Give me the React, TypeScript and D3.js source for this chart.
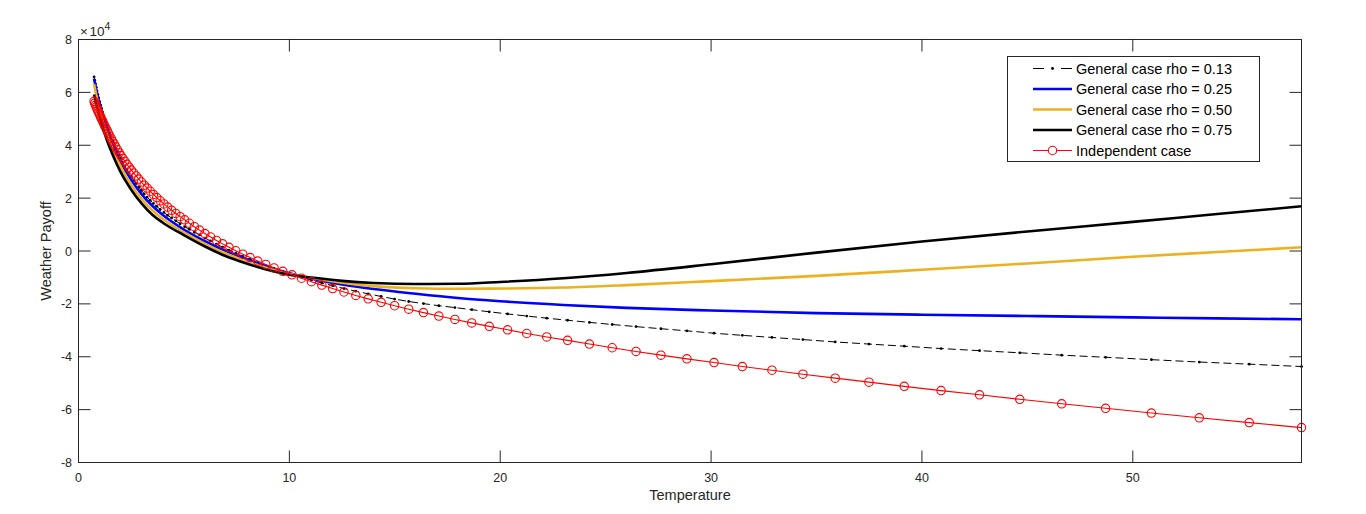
import React from 'react';
import * as d3 from 'd3';

// Temperature grid shared by the independent case and rho = 0.13 (one marker per point)
const temperature = [
  0.738, 0.771, 0.806, 0.841, 0.879, 0.918, 0.959, 1.002, 1.047, 1.093,
  1.142, 1.193, 1.246, 1.302, 1.36, 1.421, 1.484, 1.55, 1.619, 1.692,
  1.767, 1.846, 1.928, 2.014, 2.104, 2.198, 2.296, 2.398, 2.505, 2.617,
  2.733, 2.855, 2.983, 3.116, 3.255, 3.4, 3.552, 3.71, 3.875, 4.048,
  4.228, 4.417, 4.614, 4.82, 5.035, 5.259, 5.494, 5.739, 5.995, 6.263,
  6.542, 6.834, 7.139, 7.457, 7.79, 8.138, 8.501, 8.88, 9.276, 9.69,
  10.122, 10.574, 11.046, 11.538, 12.053, 12.591, 13.152, 13.739, 14.352, 14.992,
  15.661, 16.359, 17.089, 17.851, 18.648, 19.48, 20.349, 21.257, 22.205, 23.195,
  24.23, 25.311, 26.44, 27.62, 28.852, 30.139, 31.483, 32.887, 34.354, 35.887,
  37.488, 39.16, 40.907, 42.732, 44.638, 46.629, 48.709, 50.882, 53.152, 55.523, 58.0,
];

// Weather payoff, in units of 10^4
const independentCase = [
  5.66, 5.59, 5.52, 5.45, 5.38, 5.3, 5.23, 5.15, 5.07, 4.99,
  4.91, 4.82, 4.73, 4.64, 4.55, 4.45, 4.35, 4.25, 4.15, 4.05,
  3.94, 3.83, 3.72, 3.61, 3.5, 3.39, 3.28, 3.17, 3.06, 2.95,
  2.84, 2.72, 2.61, 2.49, 2.38, 2.26, 2.14, 2.02, 1.9, 1.78,
  1.66, 1.54, 1.42, 1.3, 1.18, 1.05, 0.92, 0.79, 0.66, 0.53,
  0.4, 0.27, 0.14, 0.01, -0.12, -0.25, -0.38, -0.51, -0.64, -0.77,
  -0.9, -1.03, -1.16, -1.29, -1.42, -1.55, -1.68, -1.81, -1.94, -2.07,
  -2.2, -2.33, -2.46, -2.59, -2.72, -2.85, -2.98, -3.12, -3.25, -3.38,
  -3.52, -3.66, -3.8, -3.94, -4.08, -4.22, -4.37, -4.51, -4.66, -4.81,
  -4.96, -5.12, -5.28, -5.44, -5.61, -5.78, -5.95, -6.13, -6.31, -6.49, -6.68,
];

const generalRho013 = [
  6.59, 6.45, 6.32, 6.19, 6.05, 5.92, 5.79, 5.65, 5.52, 5.39,
  5.25, 5.12, 4.99, 4.86, 4.72, 4.59, 4.45, 4.32, 4.18, 4.04,
  3.9, 3.76, 3.63, 3.49, 3.35, 3.22, 3.08, 2.95, 2.82, 2.68,
  2.55, 2.42, 2.29, 2.16, 2.04, 1.92, 1.8, 1.69, 1.57, 1.46,
  1.35, 1.25, 1.14, 1.03, 0.92, 0.82, 0.71, 0.61, 0.49, 0.38,
  0.26, 0.15, 0.03, -0.08, -0.2, -0.31, -0.43, -0.55, -0.66, -0.77,
  -0.88, -0.99, -1.1, -1.21, -1.31, -1.42, -1.52, -1.62, -1.72, -1.82,
  -1.91, -1.99, -2.07, -2.14, -2.22, -2.3, -2.38, -2.46, -2.54, -2.62,
  -2.7, -2.78, -2.86, -2.94, -3.02, -3.11, -3.19, -3.27, -3.35, -3.44,
  -3.52, -3.6, -3.69, -3.77, -3.85, -3.94, -4.02, -4.11, -4.2, -4.28, -4.37,
];

// Sampled temperatures for the smooth solid curves
const curveTemperature = [
  0.738, 0.9, 1.1, 1.35, 1.65, 2.0, 2.5, 3.0, 3.5, 4.0, 5.0, 6.0, 7.0, 8.0, 9.0, 10,
  11, 12.5, 14, 16, 18, 20, 23, 26, 30, 35, 40, 45, 50, 54, 58,
];
const generalRho025 = [
  6.52, 5.89, 5.26, 4.62, 3.99, 3.38, 2.69, 2.14, 1.71, 1.36, 0.81, 0.37, 0.0, -0.32, -0.6, -0.84,
  -1.04, -1.27, -1.44, -1.62, -1.78, -1.9, -2.04, -2.15, -2.25, -2.35, -2.41, -2.46, -2.51, -2.55, -2.58,
];
const generalRho050 = [
  6.32, 5.69, 5.06, 4.42, 3.79, 3.18, 2.5, 1.96, 1.54, 1.21, 0.7, 0.27, -0.1, -0.4, -0.66, -0.87,
  -1.01, -1.2, -1.33, -1.41, -1.43, -1.42, -1.38, -1.29, -1.14, -0.94, -0.71, -0.47, -0.22, -0.04, 0.14,
];
const generalRho075 = [
  5.92, 5.37, 4.8, 4.19, 3.58, 2.98, 2.32, 1.79, 1.37, 1.07, 0.6, 0.17, -0.2, -0.48, -0.72, -0.9,
  -1.0, -1.13, -1.21, -1.25, -1.24, -1.17, -1.03, -0.83, -0.5, -0.06, 0.36, 0.74, 1.1, 1.4, 1.69,
];

const xTicks = [0, 10, 20, 30, 40, 50];
const yTicks = [-8, -6, -4, -2, 0, 2, 4, 6, 8];
const legendLabels = [
  'General case rho = 0.13',
  'General case rho = 0.25',
  'General case rho = 0.50',
  'General case rho = 0.75',
  'Independent case',
];
const X_DOMAIN = [0, 58];
const Y_DOMAIN = [-8, 8];
const EXPONENT = '4';

const AXIS = '#262626';
const FONT = '"Liberation Sans", Arial, Helvetica, sans-serif';
const YELLOW = '#EDB120';

export default function App() {
  const W = 1366;
  const H = 514;
  const left = 78.5;
  const right = 1301.5;
  const top = 39.5;
  const bottom = 462.5;

  const x = d3.scaleLinear().domain(X_DOMAIN).range([left, right]);
  const y = d3.scaleLinear().domain(Y_DOMAIN).range([bottom, top]);

  type P = [number, number];
  const pts = (xs: number[], ys: number[]): P[] => xs.map((t, i) => [t, ys[i]] as P);

  const linear = d3.line<P>().x((d) => x(d[0])).y((d) => y(d[1]));
  const smooth = d3
    .line<P>()
    .x((d) => x(d[0]))
    .y((d) => y(d[1]))
    .curve(d3.curveMonotoneX);

  const indep = pts(temperature, independentCase);
  const r013 = pts(temperature, generalRho013);
  const r025 = pts(curveTemperature, generalRho025);
  const r050 = pts(curveTemperature, generalRho050);
  const r075 = pts(curveTemperature, generalRho075);

  const tickLen = 12;

  const legX = 1007.5;
  const legY = 56.5;
  const legW = 252;
  const legH = 105;
  const rowY = (i: number) => legY + 12 + i * 20.5;
  const sx0 = 1033;
  const sx1 = 1072;
  const sxm = (sx0 + sx1) / 2;

  return (
    <svg
      width={W}
      height={H}
      style={{ position: 'absolute', left: 0, top: 0, background: '#fff' }}
      fontFamily={FONT}
    >
      <rect x={0} y={0} width={W} height={H} fill="#fff" />

      {/* curves */}
      <path d={linear(r013) || ''} fill="none" stroke="#000" strokeWidth={1} strokeDasharray="8,4" />
      {r013.map((d, i) => (
        <circle key={'d' + i} cx={x(d[0])} cy={y(d[1])} r={1.4} fill="#000" />
      ))}
      <path d={smooth(r025) || ''} fill="none" stroke="#0000ff" strokeWidth={2.6} />
      <path d={smooth(r050) || ''} fill="none" stroke={YELLOW} strokeWidth={2.6} />
      <path d={smooth(r075) || ''} fill="none" stroke="#000" strokeWidth={2.6} />
      <path d={linear(indep) || ''} fill="none" stroke="#ff0000" strokeWidth={1.1} />
      {indep.map((d, i) => (
        <circle key={'r' + i} cx={x(d[0])} cy={y(d[1])} r={4.2} fill="none" stroke="#ff0000" strokeWidth={1.1} />
      ))}

      {/* axes box */}
      <rect x={left} y={top} width={right - left} height={bottom - top} fill="none" stroke={AXIS} strokeWidth={1} />
      {xTicks.map((t) => (
        <g key={'xt' + t}>
          <line x1={x(t)} x2={x(t)} y1={bottom} y2={bottom - tickLen} stroke={AXIS} />
          <line x1={x(t)} x2={x(t)} y1={top} y2={top + tickLen} stroke={AXIS} />
          <text x={x(t)} y={482} textAnchor="middle" fontSize={12.5} fill={AXIS}>
            {t}
          </text>
        </g>
      ))}
      {yTicks.map((t) => (
        <g key={'yt' + t}>
          <line x1={left} x2={left + tickLen} y1={y(t)} y2={y(t)} stroke={AXIS} />
          <line x1={right} x2={right - tickLen} y1={y(t)} y2={y(t)} stroke={AXIS} />
          <text x={72} y={y(t) + 4.5} textAnchor="end" fontSize={12.5} fill={AXIS}>
            {t}
          </text>
        </g>
      ))}

      {/* exponent */}
      <text x={80} y={36} fontSize={13.5} fill={AXIS}>
        {'\u00d7'}
        <tspan dx={1.5}>10</tspan>
        <tspan fontSize={10.5} dy={-6}>
          {EXPONENT}
        </tspan>
      </text>

      {/* axis labels */}
      <text x={(left + right) / 2} y={500} textAnchor="middle" fontSize={14.5} fill={AXIS}>
        Temperature
      </text>
      <text
        transform={`translate(51, ${(top + bottom) / 2}) rotate(-90)`}
        textAnchor="middle"
        fontSize={14.5}
        fill={AXIS}
      >
        Weather Payoff
      </text>

      {/* legend */}
      <rect x={legX} y={legY} width={legW} height={legH} fill="#fff" stroke={AXIS} strokeWidth={1} />
      <line x1={sx0} x2={sx1} y1={rowY(0)} y2={rowY(0)} stroke="#000" strokeWidth={1} strokeDasharray="11,17" />
      <circle cx={sxm} cy={rowY(0)} r={1.4} fill="#000" />
      <line x1={sx0} x2={sx1} y1={rowY(1)} y2={rowY(1)} stroke="#0000ff" strokeWidth={2.6} />
      <line x1={sx0} x2={sx1} y1={rowY(2)} y2={rowY(2)} stroke={YELLOW} strokeWidth={2.6} />
      <line x1={sx0} x2={sx1} y1={rowY(3)} y2={rowY(3)} stroke="#000" strokeWidth={2.6} />
      <line x1={sx0} x2={sx1} y1={rowY(4)} y2={rowY(4)} stroke="#ff0000" strokeWidth={1.1} />
      <circle cx={sxm} cy={rowY(4)} r={4.2} fill="#fff" stroke="#ff0000" strokeWidth={1.1} />
      {legendLabels.map((s, i) => (
        <text key={s} x={1076} y={rowY(i) + 5} fontSize={14.5} fill="#000">
          {s}
        </text>
      ))}
    </svg>
  );
}
